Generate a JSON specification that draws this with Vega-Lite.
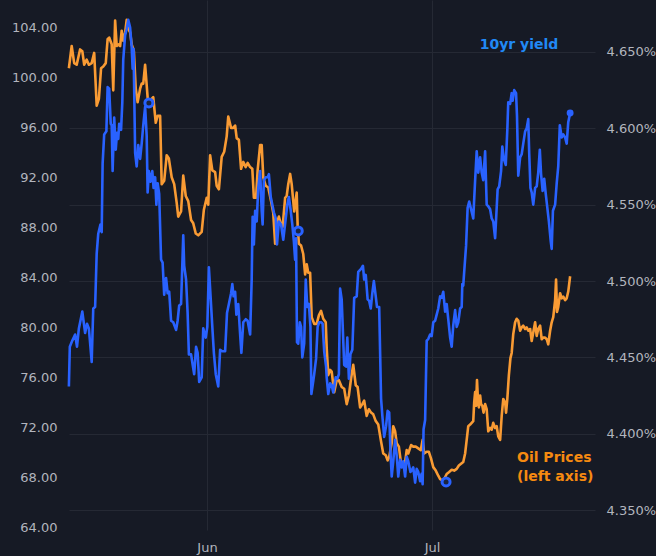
{
  "$schema": "https://vega.github.io/schema/vega-lite/v6.json",
  "width": 526,
  "height": 530,
  "autosize": "none",
  "padding": {"left": 69, "top": 0, "right": 61, "bottom": 26},
  "background": "#161a25",
  "config": {
    "view": {"stroke": null},
    "font": "DejaVu Sans",
    "axis": {
      "labelFont": "DejaVu Sans",
      "labelFontSize": 13,
      "labelColor": "#b2b5be",
      "domain": false,
      "ticks": false,
      "tickSize": 0,
      "gridColor": "#252934",
      "gridWidth": 1
    }
  },
  "datasets": {
    "oil": [
      {"t":"2024-05-13T14:00","oil":100.77},{"t":"2024-05-13T23:00","oil":102.55},{"t":"2024-05-14T07:00","oil":101.18},{"t":"2024-05-14T15:00","oil":101.05},
      {"t":"2024-05-15T02:00","oil":102.28},{"t":"2024-05-15T09:00","oil":102.14},{"t":"2024-05-15T15:00","oil":101.05},{"t":"2024-05-15T23:00","oil":101.46},
      {"t":"2024-05-16T06:00","oil":101.05},{"t":"2024-05-16T15:00","oil":101.18},{"t":"2024-05-16T23:00","oil":102.00},{"t":"2024-05-17T07:00","oil":97.77},
      {"t":"2024-05-17T14:00","oil":98.31},{"t":"2024-05-17T21:00","oil":100.77},{"t":"2024-05-18T04:00","oil":100.91},{"t":"2024-05-18T12:00","oil":101.18},
      {"t":"2024-05-18T18:00","oil":103.10},{"t":"2024-05-18T23:00","oil":103.23},{"t":"2024-05-19T07:00","oil":102.69},{"t":"2024-05-19T12:00","oil":99.00},
      {"t":"2024-05-19T18:00","oil":104.60},{"t":"2024-05-19T23:00","oil":102.55},{"t":"2024-05-20T04:00","oil":102.69},{"t":"2024-05-20T10:00","oil":102.55},
      {"t":"2024-05-20T15:00","oil":103.78},{"t":"2024-05-20T20:00","oil":102.96},{"t":"2024-05-21T02:00","oil":103.64},{"t":"2024-05-21T07:00","oil":104.65},
      {"t":"2024-05-21T12:00","oil":103.92},{"t":"2024-05-21T18:00","oil":103.64},{"t":"2024-05-21T23:00","oil":102.69},{"t":"2024-05-22T06:00","oil":102.14},
      {"t":"2024-05-22T12:00","oil":99.13},{"t":"2024-05-22T18:00","oil":98.04},{"t":"2024-05-23T02:00","oil":99.13},{"t":"2024-05-23T07:00","oil":99.54},
      {"t":"2024-05-23T12:00","oil":99.54},{"t":"2024-05-23T18:00","oil":101.05},{"t":"2024-05-23T23:00","oil":99.41},{"t":"2024-05-24T04:00","oil":97.77},
      {"t":"2024-05-24T15:00","oil":98.31},{"t":"2024-05-24T20:00","oil":98.45},{"t":"2024-05-25T04:00","oil":96.40},{"t":"2024-05-25T10:00","oil":96.95},
      {"t":"2024-05-25T18:00","oil":96.95},{"t":"2024-05-25T23:00","oil":91.48},{"t":"2024-05-26T07:00","oil":91.75},{"t":"2024-05-26T15:00","oil":93.80},
      {"t":"2024-05-26T22:00","oil":93.53},{"t":"2024-05-27T07:00","oil":92.03},{"t":"2024-05-27T15:00","oil":91.48},{"t":"2024-05-27T23:00","oil":89.98},
      {"t":"2024-05-28T04:00","oil":88.88},{"t":"2024-05-28T13:00","oil":89.29},{"t":"2024-05-28T20:00","oil":92.17},{"t":"2024-05-29T04:00","oil":90.53},
      {"t":"2024-05-29T12:00","oil":90.12},{"t":"2024-05-29T21:00","oil":88.61},{"t":"2024-05-30T04:00","oil":88.34},{"t":"2024-05-30T12:00","oil":87.52},
      {"t":"2024-05-30T20:00","oil":87.38},{"t":"2024-05-31T07:00","oil":87.66},{"t":"2024-05-31T14:00","oil":89.43},{"t":"2024-05-31T23:00","oil":90.39},
      {"t":"2024-06-01T04:00","oil":89.84},{"t":"2024-06-01T10:00","oil":93.80},{"t":"2024-06-01T17:00","oil":92.58},{"t":"2024-06-02T02:00","oil":92.44},
      {"t":"2024-06-02T07:00","oil":91.35},{"t":"2024-06-02T14:00","oil":91.07},{"t":"2024-06-02T23:00","oil":93.67},{"t":"2024-06-03T07:00","oil":94.08},
      {"t":"2024-06-03T15:00","oil":95.31},{"t":"2024-06-03T20:00","oil":96.89},{"t":"2024-06-04T05:00","oil":95.99},{"t":"2024-06-04T12:00","oil":95.99},
      {"t":"2024-06-04T18:00","oil":96.18},{"t":"2024-06-04T23:00","oil":95.17},{"t":"2024-06-05T06:00","oil":95.03},{"t":"2024-06-05T13:00","oil":92.71},
      {"t":"2024-06-05T20:00","oil":93.26},{"t":"2024-06-06T04:00","oil":92.85},{"t":"2024-06-06T10:00","oil":93.18},{"t":"2024-06-06T18:00","oil":92.85},
      {"t":"2024-06-07T01:00","oil":92.71},{"t":"2024-06-07T06:00","oil":90.39},{"t":"2024-06-07T13:00","oil":90.39},{"t":"2024-06-07T18:00","oil":92.58},
      {"t":"2024-06-08T02:00","oil":94.62},{"t":"2024-06-08T07:00","oil":94.62},{"t":"2024-06-08T12:00","oil":92.03},{"t":"2024-06-08T20:00","oil":91.35},
      {"t":"2024-06-09T04:00","oil":91.21},{"t":"2024-06-09T13:00","oil":90.12},{"t":"2024-06-09T20:00","oil":89.16},{"t":"2024-06-10T02:00","oil":86.70},
      {"t":"2024-06-10T09:00","oil":88.48},{"t":"2024-06-10T14:00","oil":88.88},{"t":"2024-06-10T21:00","oil":88.20},{"t":"2024-06-11T02:00","oil":88.07},
      {"t":"2024-06-11T10:00","oil":90.39},{"t":"2024-06-11T15:00","oil":90.53},{"t":"2024-06-11T20:00","oil":91.48},{"t":"2024-06-12T02:00","oil":92.30},
      {"t":"2024-06-12T07:00","oil":91.48},{"t":"2024-06-12T12:00","oil":90.12},{"t":"2024-06-12T15:00","oil":89.29},{"t":"2024-06-12T23:00","oil":90.80},
      {"t":"2024-06-13T02:00","oil":88.20},{"t":"2024-06-13T06:00","oil":86.70},{"t":"2024-06-13T13:00","oil":86.56},{"t":"2024-06-13T20:00","oil":85.88},
      {"t":"2024-06-14T02:00","oil":84.24},{"t":"2024-06-14T07:00","oil":85.06},{"t":"2024-06-14T12:00","oil":84.38},{"t":"2024-06-14T18:00","oil":84.38},
      {"t":"2024-06-14T23:00","oil":80.82},{"t":"2024-06-15T07:00","oil":80.28},{"t":"2024-06-15T15:00","oil":80.28},{"t":"2024-06-15T22:00","oil":80.96},
      {"t":"2024-06-16T05:00","oil":81.32},{"t":"2024-06-16T12:00","oil":80.69},{"t":"2024-06-16T20:00","oil":80.41},{"t":"2024-06-16T23:00","oil":78.36},
      {"t":"2024-06-17T04:00","oil":76.17},{"t":"2024-06-17T10:00","oil":76.59},{"t":"2024-06-17T15:00","oil":76.45},{"t":"2024-06-17T23:00","oil":74.81},
      {"t":"2024-06-18T07:00","oil":75.77},{"t":"2024-06-18T14:00","oil":75.77},{"t":"2024-06-18T23:00","oil":75.22},{"t":"2024-06-19T07:00","oil":75.08},
      {"t":"2024-06-19T15:00","oil":73.85},{"t":"2024-06-19T22:00","oil":74.54},{"t":"2024-06-20T05:00","oil":75.90},{"t":"2024-06-20T12:00","oil":77.00},
      {"t":"2024-06-20T20:00","oil":75.36},{"t":"2024-06-21T02:00","oil":75.22},{"t":"2024-06-21T10:00","oil":73.58},{"t":"2024-06-21T17:00","oil":73.85},
      {"t":"2024-06-21T23:00","oil":74.13},{"t":"2024-06-22T07:00","oil":72.90},{"t":"2024-06-22T14:00","oil":73.44},{"t":"2024-06-22T21:00","oil":73.17},
      {"t":"2024-06-23T04:00","oil":73.03},{"t":"2024-06-23T12:00","oil":72.49},{"t":"2024-06-23T20:00","oil":72.21},{"t":"2024-06-24T05:00","oil":70.85},
      {"t":"2024-06-24T12:00","oil":69.89},{"t":"2024-06-24T20:00","oil":69.75},{"t":"2024-06-25T02:00","oil":69.34},{"t":"2024-06-25T07:00","oil":69.62},
      {"t":"2024-06-25T15:00","oil":70.71},{"t":"2024-06-25T20:00","oil":72.08},{"t":"2024-06-26T02:00","oil":71.67},{"t":"2024-06-26T07:00","oil":70.71},
      {"t":"2024-06-26T14:00","oil":70.44},{"t":"2024-06-26T21:00","oil":69.07},{"t":"2024-06-27T04:00","oil":69.07},{"t":"2024-06-27T10:00","oil":69.21},
      {"t":"2024-06-27T15:00","oil":70.16},{"t":"2024-06-27T20:00","oil":69.89},{"t":"2024-06-28T05:00","oil":70.57},{"t":"2024-06-28T12:00","oil":70.44},
      {"t":"2024-06-28T20:00","oil":70.44},{"t":"2024-06-29T04:00","oil":70.30},{"t":"2024-06-29T12:00","oil":70.16},{"t":"2024-06-29T18:00","oil":70.98},
      {"t":"2024-06-29T23:00","oil":69.89},{"t":"2024-06-30T07:00","oil":70.03},{"t":"2024-06-30T14:00","oil":70.03},{"t":"2024-06-30T21:00","oil":69.48},
      {"t":"2024-07-01T04:00","oil":68.80},{"t":"2024-07-01T12:00","oil":68.52},{"t":"2024-07-01T20:00","oil":68.11},{"t":"2024-07-02T02:00","oil":67.84},
      {"t":"2024-07-02T12:00","oil":67.70},{"t":"2024-07-02T23:00","oil":68.25},{"t":"2024-07-03T06:00","oil":68.39},{"t":"2024-07-03T15:00","oil":68.58},
      {"t":"2024-07-03T23:00","oil":68.52},{"t":"2024-07-04T07:00","oil":68.66},{"t":"2024-07-04T14:00","oil":68.93},{"t":"2024-07-04T21:00","oil":69.07},
      {"t":"2024-07-05T04:00","oil":69.21},{"t":"2024-07-05T10:00","oil":69.89},{"t":"2024-07-05T15:00","oil":70.98},{"t":"2024-07-05T20:00","oil":72.08},
      {"t":"2024-07-06T02:00","oil":72.21},{"t":"2024-07-06T07:00","oil":72.35},{"t":"2024-07-06T12:00","oil":72.49},{"t":"2024-07-06T15:00","oil":73.99},
      {"t":"2024-07-06T18:00","oil":74.81},{"t":"2024-07-06T21:00","oil":73.72},{"t":"2024-07-07T00:00","oil":75.77},{"t":"2024-07-07T03:00","oil":74.26},
      {"t":"2024-07-07T06:00","oil":73.58},{"t":"2024-07-07T10:00","oil":74.54},{"t":"2024-07-07T13:00","oil":73.85},{"t":"2024-07-07T17:00","oil":73.72},
      {"t":"2024-07-07T21:00","oil":73.17},{"t":"2024-07-08T02:00","oil":73.85},{"t":"2024-07-08T07:00","oil":73.44},{"t":"2024-07-08T12:00","oil":71.67},
      {"t":"2024-07-08T18:00","oil":71.94},{"t":"2024-07-08T23:00","oil":71.80},{"t":"2024-07-09T04:00","oil":72.35},{"t":"2024-07-09T10:00","oil":71.94},
      {"t":"2024-07-09T15:00","oil":72.08},{"t":"2024-07-09T20:00","oil":71.26},{"t":"2024-07-10T02:00","oil":70.98},{"t":"2024-07-10T07:00","oil":72.90},
      {"t":"2024-07-10T12:00","oil":74.26},{"t":"2024-07-10T18:00","oil":73.99},{"t":"2024-07-10T21:00","oil":73.17},{"t":"2024-07-11T01:00","oil":74.26},
      {"t":"2024-07-11T06:00","oil":76.17},{"t":"2024-07-11T11:00","oil":77.54},{"t":"2024-07-11T15:00","oil":77.95},{"t":"2024-07-11T20:00","oil":79.46},
      {"t":"2024-07-12T02:00","oil":80.41},{"t":"2024-07-12T07:00","oil":80.69},{"t":"2024-07-12T12:00","oil":80.55},{"t":"2024-07-12T18:00","oil":79.73},
      {"t":"2024-07-12T23:00","oil":80.00},{"t":"2024-07-13T04:00","oil":80.14},{"t":"2024-07-13T10:00","oil":79.87},{"t":"2024-07-13T15:00","oil":80.00},
      {"t":"2024-07-13T20:00","oil":79.73},{"t":"2024-07-14T02:00","oil":79.87},{"t":"2024-07-14T07:00","oil":78.91},{"t":"2024-07-14T12:00","oil":79.59},
      {"t":"2024-07-14T18:00","oil":80.41},{"t":"2024-07-14T23:00","oil":79.32},{"t":"2024-07-15T04:00","oil":79.87},{"t":"2024-07-15T10:00","oil":80.14},
      {"t":"2024-07-15T15:00","oil":79.05},{"t":"2024-07-15T20:00","oil":79.18},{"t":"2024-07-16T02:00","oil":79.18},{"t":"2024-07-16T07:00","oil":79.05},
      {"t":"2024-07-16T12:00","oil":78.64},{"t":"2024-07-16T18:00","oil":79.73},{"t":"2024-07-16T23:00","oil":80.41},{"t":"2024-07-17T04:00","oil":80.82},
      {"t":"2024-07-17T10:00","oil":82.19},{"t":"2024-07-17T13:00","oil":83.83},{"t":"2024-07-17T16:00","oil":81.23},{"t":"2024-07-17T20:00","oil":81.64},
      {"t":"2024-07-18T02:00","oil":82.74},{"t":"2024-07-18T07:00","oil":82.33},{"t":"2024-07-18T12:00","oil":82.46},{"t":"2024-07-18T18:00","oil":82.19},
      {"t":"2024-07-18T23:00","oil":82.33},{"t":"2024-07-19T04:00","oil":82.87},{"t":"2024-07-19T10:00","oil":84.10}
    ],
    "oilEvents": [
      {"t":"2024-05-24T06:00","oil":97.99},
      {"t":"2024-06-13T04:00","oil":87.73},
      {"t":"2024-07-02T21:00","oil":67.61}
    ],
    "yield": [
      {"t":"2024-05-13T14:00","yield":4.431},{"t":"2024-05-13T17:00","yield":4.457},{"t":"2024-05-14T01:00","yield":4.461},{"t":"2024-05-14T10:00","yield":4.465},
      {"t":"2024-05-14T16:00","yield":4.457},{"t":"2024-05-14T22:00","yield":4.469},{"t":"2024-05-15T09:00","yield":4.480},{"t":"2024-05-15T18:00","yield":4.466},
      {"t":"2024-05-16T00:00","yield":4.472},{"t":"2024-05-16T06:00","yield":4.469},{"t":"2024-05-16T15:00","yield":4.447},{"t":"2024-05-16T20:00","yield":4.482},
      {"t":"2024-05-17T02:00","yield":4.483},{"t":"2024-05-17T07:00","yield":4.518},{"t":"2024-05-17T12:00","yield":4.531},{"t":"2024-05-17T19:00","yield":4.537},
      {"t":"2024-05-17T23:00","yield":4.532},{"t":"2024-05-18T02:00","yield":4.577},{"t":"2024-05-18T07:00","yield":4.596},{"t":"2024-05-18T14:00","yield":4.598},
      {"t":"2024-05-18T18:00","yield":4.627},{"t":"2024-05-18T23:00","yield":4.626},{"t":"2024-05-19T04:00","yield":4.603},{"t":"2024-05-19T07:00","yield":4.602},
      {"t":"2024-05-19T10:00","yield":4.572},{"t":"2024-05-19T15:00","yield":4.607},{"t":"2024-05-19T20:00","yield":4.586},{"t":"2024-05-20T00:00","yield":4.597},
      {"t":"2024-05-20T04:00","yield":4.593},{"t":"2024-05-20T07:00","yield":4.603},{"t":"2024-05-20T13:00","yield":4.599},{"t":"2024-05-20T17:00","yield":4.617},
      {"t":"2024-05-20T20:00","yield":4.645},{"t":"2024-05-21T02:00","yield":4.661},{"t":"2024-05-21T07:00","yield":4.665},{"t":"2024-05-21T12:00","yield":4.671},
      {"t":"2024-05-21T18:00","yield":4.666},{"t":"2024-05-21T23:00","yield":4.653},{"t":"2024-05-22T02:00","yield":4.639},{"t":"2024-05-22T05:00","yield":4.652},
      {"t":"2024-05-22T10:00","yield":4.584},{"t":"2024-05-22T15:00","yield":4.575},{"t":"2024-05-22T20:00","yield":4.589},{"t":"2024-05-23T02:00","yield":4.580},
      {"t":"2024-05-23T07:00","yield":4.590},{"t":"2024-05-23T12:00","yield":4.602},{"t":"2024-05-23T18:00","yield":4.614},{"t":"2024-05-23T23:00","yield":4.595},
      {"t":"2024-05-24T02:00","yield":4.558},{"t":"2024-05-24T06:00","yield":4.572},{"t":"2024-05-24T11:00","yield":4.565},{"t":"2024-05-24T17:00","yield":4.572},
      {"t":"2024-05-24T21:00","yield":4.561},{"t":"2024-05-25T02:00","yield":4.568},{"t":"2024-05-25T06:00","yield":4.550},{"t":"2024-05-25T10:00","yield":4.564},
      {"t":"2024-05-25T15:00","yield":4.557},{"t":"2024-05-25T21:00","yield":4.514},{"t":"2024-05-26T02:00","yield":4.512},{"t":"2024-05-26T07:00","yield":4.491},
      {"t":"2024-05-26T13:00","yield":4.502},{"t":"2024-05-26T18:00","yield":4.492},{"t":"2024-05-26T23:00","yield":4.493},{"t":"2024-05-27T05:00","yield":4.474},
      {"t":"2024-05-27T12:00","yield":4.473},{"t":"2024-05-27T21:00","yield":4.468},{"t":"2024-05-28T02:00","yield":4.474},{"t":"2024-05-28T07:00","yield":4.484},
      {"t":"2024-05-28T13:00","yield":4.485},{"t":"2024-05-28T20:00","yield":4.530},{"t":"2024-05-28T23:00","yield":4.510},{"t":"2024-05-29T05:00","yield":4.501},
      {"t":"2024-05-29T10:00","yield":4.479},{"t":"2024-05-29T14:00","yield":4.452},{"t":"2024-05-29T21:00","yield":4.452},{"t":"2024-05-30T03:00","yield":4.444},
      {"t":"2024-05-30T07:00","yield":4.439},{"t":"2024-05-30T13:00","yield":4.457},{"t":"2024-05-30T18:00","yield":4.453},{"t":"2024-05-30T23:00","yield":4.434},
      {"t":"2024-05-31T07:00","yield":4.437},{"t":"2024-05-31T12:00","yield":4.469},{"t":"2024-05-31T20:00","yield":4.463},{"t":"2024-06-01T01:00","yield":4.470},
      {"t":"2024-06-01T06:00","yield":4.509},{"t":"2024-06-01T12:00","yield":4.488},{"t":"2024-06-01T17:00","yield":4.470},{"t":"2024-06-01T22:00","yield":4.453},
      {"t":"2024-06-02T04:00","yield":4.439},{"t":"2024-06-02T12:00","yield":4.431},{"t":"2024-06-02T18:00","yield":4.455},{"t":"2024-06-03T01:00","yield":4.454},
      {"t":"2024-06-03T10:00","yield":4.454},{"t":"2024-06-03T16:00","yield":4.479},{"t":"2024-06-03T22:00","yield":4.485},{"t":"2024-06-04T05:00","yield":4.492},
      {"t":"2024-06-04T09:00","yield":4.498},{"t":"2024-06-04T13:00","yield":4.490},{"t":"2024-06-04T18:00","yield":4.493},{"t":"2024-06-04T22:00","yield":4.478},
      {"t":"2024-06-05T04:00","yield":4.485},{"t":"2024-06-05T10:00","yield":4.465},{"t":"2024-06-05T14:00","yield":4.453},{"t":"2024-06-05T20:00","yield":4.473},
      {"t":"2024-06-06T04:00","yield":4.475},{"t":"2024-06-06T10:00","yield":4.474},{"t":"2024-06-06T18:00","yield":4.465},{"t":"2024-06-06T23:00","yield":4.501},
      {"t":"2024-06-07T02:00","yield":4.542},{"t":"2024-06-07T06:00","yield":4.524},{"t":"2024-06-07T10:00","yield":4.546},{"t":"2024-06-07T15:00","yield":4.539},
      {"t":"2024-06-07T20:00","yield":4.561},{"t":"2024-06-08T02:00","yield":4.572},{"t":"2024-06-08T07:00","yield":4.546},{"t":"2024-06-08T10:00","yield":4.537},
      {"t":"2024-06-08T14:00","yield":4.566},{"t":"2024-06-08T20:00","yield":4.568},{"t":"2024-06-09T02:00","yield":4.568},{"t":"2024-06-09T06:00","yield":4.570},
      {"t":"2024-06-09T12:00","yield":4.555},{"t":"2024-06-09T17:00","yield":4.550},{"t":"2024-06-09T22:00","yield":4.545},{"t":"2024-06-10T04:00","yield":4.541},
      {"t":"2024-06-10T08:00","yield":4.524},{"t":"2024-06-10T14:00","yield":4.539},{"t":"2024-06-10T21:00","yield":4.537},{"t":"2024-06-11T04:00","yield":4.527},
      {"t":"2024-06-11T12:00","yield":4.541},{"t":"2024-06-11T17:00","yield":4.550},{"t":"2024-06-11T22:00","yield":4.555},{"t":"2024-06-12T04:00","yield":4.546},
      {"t":"2024-06-12T09:00","yield":4.537},{"t":"2024-06-12T14:00","yield":4.526},{"t":"2024-06-12T18:00","yield":4.514},{"t":"2024-06-12T21:00","yield":4.528},
      {"t":"2024-06-13T00:00","yield":4.460},{"t":"2024-06-13T04:00","yield":4.459},{"t":"2024-06-13T09:00","yield":4.473},{"t":"2024-06-13T13:00","yield":4.470},
      {"t":"2024-06-13T17:00","yield":4.450},{"t":"2024-06-13T23:00","yield":4.459},{"t":"2024-06-14T04:00","yield":4.501},{"t":"2024-06-14T09:00","yield":4.483},
      {"t":"2024-06-14T14:00","yield":4.485},{"t":"2024-06-14T19:00","yield":4.470},{"t":"2024-06-14T22:00","yield":4.426},{"t":"2024-06-15T03:00","yield":4.433},
      {"t":"2024-06-15T07:00","yield":4.439},{"t":"2024-06-15T13:00","yield":4.449},{"t":"2024-06-15T18:00","yield":4.470},{"t":"2024-06-15T23:00","yield":4.473},
      {"t":"2024-06-16T05:00","yield":4.473},{"t":"2024-06-16T10:00","yield":4.472},{"t":"2024-06-16T15:00","yield":4.454},{"t":"2024-06-16T21:00","yield":4.444},
      {"t":"2024-06-16T23:00","yield":4.437},{"t":"2024-06-17T04:00","yield":4.426},{"t":"2024-06-17T10:00","yield":4.433},{"t":"2024-06-17T15:00","yield":4.432},
      {"t":"2024-06-17T20:00","yield":4.427},{"t":"2024-06-18T04:00","yield":4.437},{"t":"2024-06-18T09:00","yield":4.436},{"t":"2024-06-18T14:00","yield":4.439},
      {"t":"2024-06-18T18:00","yield":4.495},{"t":"2024-06-18T23:00","yield":4.488},{"t":"2024-06-19T04:00","yield":4.461},{"t":"2024-06-19T07:00","yield":4.445},
      {"t":"2024-06-19T13:00","yield":4.444},{"t":"2024-06-19T17:00","yield":4.463},{"t":"2024-06-19T22:00","yield":4.436},{"t":"2024-06-20T03:00","yield":4.452},
      {"t":"2024-06-20T09:00","yield":4.455},{"t":"2024-06-20T15:00","yield":4.489},{"t":"2024-06-20T23:00","yield":4.490},{"t":"2024-06-21T04:00","yield":4.506},
      {"t":"2024-06-21T13:00","yield":4.508},{"t":"2024-06-21T19:00","yield":4.510},{"t":"2024-06-21T23:00","yield":4.501},{"t":"2024-06-22T04:00","yield":4.504},
      {"t":"2024-06-22T10:00","yield":4.488},{"t":"2024-06-22T15:00","yield":4.487},{"t":"2024-06-22T20:00","yield":4.482},{"t":"2024-06-23T01:00","yield":4.492},
      {"t":"2024-06-23T06:00","yield":4.500},{"t":"2024-06-23T12:00","yield":4.490},{"t":"2024-06-23T16:00","yield":4.483},{"t":"2024-06-23T23:00","yield":4.483},
      {"t":"2024-06-24T05:00","yield":4.423},{"t":"2024-06-24T09:00","yield":4.412},{"t":"2024-06-24T15:00","yield":4.398},{"t":"2024-06-24T21:00","yield":4.405},
      {"t":"2024-06-25T02:00","yield":4.415},{"t":"2024-06-25T07:00","yield":4.414},{"t":"2024-06-25T11:00","yield":4.389},{"t":"2024-06-25T15:00","yield":4.372},
      {"t":"2024-06-25T20:00","yield":4.382},{"t":"2024-06-26T02:00","yield":4.396},{"t":"2024-06-26T07:00","yield":4.386},{"t":"2024-06-26T12:00","yield":4.372},
      {"t":"2024-06-26T18:00","yield":4.383},{"t":"2024-06-26T23:00","yield":4.378},{"t":"2024-06-27T04:00","yield":4.382},{"t":"2024-06-27T10:00","yield":4.372},
      {"t":"2024-06-27T15:00","yield":4.385},{"t":"2024-06-27T20:00","yield":4.382},{"t":"2024-06-28T03:00","yield":4.375},{"t":"2024-06-28T07:00","yield":4.376},
      {"t":"2024-06-28T12:00","yield":4.378},{"t":"2024-06-28T18:00","yield":4.368},{"t":"2024-06-28T23:00","yield":4.377},{"t":"2024-06-29T04:00","yield":4.375},
      {"t":"2024-06-29T10:00","yield":4.369},{"t":"2024-06-29T15:00","yield":4.374},{"t":"2024-06-29T18:00","yield":4.367},{"t":"2024-06-29T21:00","yield":4.403},
      {"t":"2024-06-30T02:00","yield":4.409},{"t":"2024-06-30T07:00","yield":4.461},{"t":"2024-06-30T12:00","yield":4.462},{"t":"2024-06-30T18:00","yield":4.465},
      {"t":"2024-06-30T23:00","yield":4.464},{"t":"2024-07-01T04:00","yield":4.473},{"t":"2024-07-01T10:00","yield":4.474},{"t":"2024-07-01T15:00","yield":4.478},
      {"t":"2024-07-01T20:00","yield":4.482},{"t":"2024-07-02T02:00","yield":4.490},{"t":"2024-07-02T07:00","yield":4.489},{"t":"2024-07-02T12:00","yield":4.493},
      {"t":"2024-07-02T18:00","yield":4.480},{"t":"2024-07-02T23:00","yield":4.485},{"t":"2024-07-03T04:00","yield":4.475},{"t":"2024-07-03T10:00","yield":4.463},
      {"t":"2024-07-03T15:00","yield":4.457},{"t":"2024-07-03T20:00","yield":4.471},{"t":"2024-07-04T02:00","yield":4.481},{"t":"2024-07-04T07:00","yield":4.470},
      {"t":"2024-07-04T12:00","yield":4.473},{"t":"2024-07-04T18:00","yield":4.482},{"t":"2024-07-04T23:00","yield":4.483},{"t":"2024-07-05T01:00","yield":4.498},
      {"t":"2024-07-05T04:00","yield":4.497},{"t":"2024-07-05T07:00","yield":4.506},{"t":"2024-07-05T13:00","yield":4.523},{"t":"2024-07-05T18:00","yield":4.548},
      {"t":"2024-07-05T23:00","yield":4.552},{"t":"2024-07-06T05:00","yield":4.547},{"t":"2024-07-06T12:00","yield":4.541},{"t":"2024-07-06T18:00","yield":4.566},
      {"t":"2024-07-06T23:00","yield":4.585},{"t":"2024-07-07T04:00","yield":4.571},{"t":"2024-07-07T10:00","yield":4.581},{"t":"2024-07-07T15:00","yield":4.571},
      {"t":"2024-07-07T20:00","yield":4.566},{"t":"2024-07-08T02:00","yield":4.585},{"t":"2024-07-08T07:00","yield":4.550},{"t":"2024-07-08T12:00","yield":4.549},
      {"t":"2024-07-08T18:00","yield":4.547},{"t":"2024-07-08T23:00","yield":4.541},{"t":"2024-07-09T04:00","yield":4.539},{"t":"2024-07-09T10:00","yield":4.528},
      {"t":"2024-07-09T15:00","yield":4.548},{"t":"2024-07-09T18:00","yield":4.560},{"t":"2024-07-09T23:00","yield":4.562},{"t":"2024-07-10T05:00","yield":4.572},
      {"t":"2024-07-10T09:00","yield":4.588},{"t":"2024-07-10T14:00","yield":4.580},{"t":"2024-07-10T20:00","yield":4.576},{"t":"2024-07-11T01:00","yield":4.599},
      {"t":"2024-07-11T04:00","yield":4.617},{"t":"2024-07-11T10:00","yield":4.616},{"t":"2024-07-11T15:00","yield":4.623},{"t":"2024-07-11T18:00","yield":4.618},
      {"t":"2024-07-11T23:00","yield":4.625},{"t":"2024-07-12T05:00","yield":4.623},{"t":"2024-07-12T08:00","yield":4.608},{"t":"2024-07-12T12:00","yield":4.569},
      {"t":"2024-07-12T18:00","yield":4.581},{"t":"2024-07-12T23:00","yield":4.583},{"t":"2024-07-13T04:00","yield":4.590},{"t":"2024-07-13T10:00","yield":4.598},
      {"t":"2024-07-13T15:00","yield":4.600},{"t":"2024-07-13T20:00","yield":4.606},{"t":"2024-07-13T23:00","yield":4.584},{"t":"2024-07-14T03:00","yield":4.561},
      {"t":"2024-07-14T07:00","yield":4.558},{"t":"2024-07-14T12:00","yield":4.550},{"t":"2024-07-14T18:00","yield":4.561},{"t":"2024-07-14T23:00","yield":4.562},
      {"t":"2024-07-15T04:00","yield":4.571},{"t":"2024-07-15T09:00","yield":4.586},{"t":"2024-07-15T13:00","yield":4.570},{"t":"2024-07-15T18:00","yield":4.559},
      {"t":"2024-07-15T23:00","yield":4.567},{"t":"2024-07-16T04:00","yield":4.557},{"t":"2024-07-16T09:00","yield":4.548},{"t":"2024-07-16T14:00","yield":4.539},
      {"t":"2024-07-16T20:00","yield":4.526},{"t":"2024-07-16T23:00","yield":4.521},{"t":"2024-07-17T03:00","yield":4.546},{"t":"2024-07-17T10:00","yield":4.550},
      {"t":"2024-07-17T15:00","yield":4.564},{"t":"2024-07-17T20:00","yield":4.575},{"t":"2024-07-18T01:00","yield":4.602},{"t":"2024-07-18T07:00","yield":4.594},
      {"t":"2024-07-18T12:00","yield":4.596},{"t":"2024-07-18T18:00","yield":4.594},{"t":"2024-07-18T23:00","yield":4.590},{"t":"2024-07-19T04:00","yield":4.604},
      {"t":"2024-07-19T10:00","yield":4.610}
    ]
  },
  "layer": [
    {
      "layer": [
        {
          "data": {"name": "oil"},
          "mark": {"type": "line", "color": "#f99b34", "strokeWidth": 2.6, "strokeJoin": "round"},
          "encoding": {
            "x": {
              "field": "t", "type": "temporal", "title": null,
              "scale": {"domain": [{"year": 2024, "month": 5, "date": 13, "hours": 14, "minutes": 24}, {"year": 2024, "month": 7, "date": 22, "hours": 17, "minutes": 36}]},
              "axis": {
                "values": [{"year": 2024, "month": 6, "date": 1}, {"year": 2024, "month": 7, "date": 1}],
                "format": "%b", "grid": true, "labelPadding": 11, "labelAlign": "center"
              }
            },
            "y": {
              "field": "oil", "type": "quantitative", "title": null,
              "scale": {"domain": [63.76, 106.24], "nice": false, "zero": false},
              "axis": {"orient": "left", "values": [64, 68, 72, 76, 80, 84, 88, 92, 96, 100, 104], "format": ".2f", "grid": false, "labelPadding": 12}
            }
          }
        },
        {
          "data": {"name": "oilEvents"},
          "mark": {"type": "point", "shape": "circle", "filled": true, "fill": "#1a2440", "stroke": "#2962ff", "strokeWidth": 3, "size": 64, "opacity": 1},
          "encoding": {
            "x": {"field": "t", "type": "temporal"},
            "y": {"field": "oil", "type": "quantitative"}
          }
        },
        {
          "data": {"values": [{}]},
          "mark": {"type": "text", "text": ["Oil Prices", "(left axis)"], "align": "left", "baseline": "middle", "lineHeight": 19, "fontSize": 14, "fontWeight": "bold", "color": "#f68a10"},
          "encoding": {
            "x": {"datum": {"year": 2024, "month": 7, "date": 12, "hours": 8}, "type": "temporal"},
            "y": {"datum": 69.53, "type": "quantitative"}
          }
        }
      ]
    },
    {
      "layer": [
        {
          "data": {"name": "yield"},
          "mark": {"type": "line", "color": "#2962ff", "strokeWidth": 2.6, "strokeJoin": "round"},
          "encoding": {
            "x": {"field": "t", "type": "temporal"},
            "y": {
              "field": "yield", "type": "quantitative", "title": null,
              "scale": {"domain": [4.337, 4.684], "nice": false, "zero": false},
              "axis": {
                "orient": "right", "values": [4.35, 4.4, 4.45, 4.5, 4.55, 4.6, 4.65],
                "labelExpr": "format(datum.value, '.3f') + '%'", "grid": true, "labelPadding": 11
              }
            }
          }
        },
        {
          "data": {"name": "yield"},
          "transform": [{"filter": {"field": "t", "equal": {"year": 2024, "month": 7, "date": 19, "hours": 10}}}],
          "mark": {"type": "point", "shape": "circle", "filled": true, "color": "#2962ff", "size": 48, "opacity": 1},
          "encoding": {
            "x": {"field": "t", "type": "temporal"},
            "y": {"field": "yield", "type": "quantitative"}
          }
        },
        {
          "data": {"values": [{}]},
          "mark": {"type": "text", "text": "10yr yield", "align": "center", "baseline": "middle", "fontSize": 14, "fontWeight": "bold", "color": "#2189f5"},
          "encoding": {
            "x": {"datum": {"year": 2024, "month": 7, "date": 12, "hours": 14, "minutes": 24}, "type": "temporal"},
            "y": {"datum": 4.6546, "type": "quantitative"}
          }
        }
      ]
    }
  ],
  "resolve": {"scale": {"y": "independent"}, "axis": {"y": "independent"}}
}
